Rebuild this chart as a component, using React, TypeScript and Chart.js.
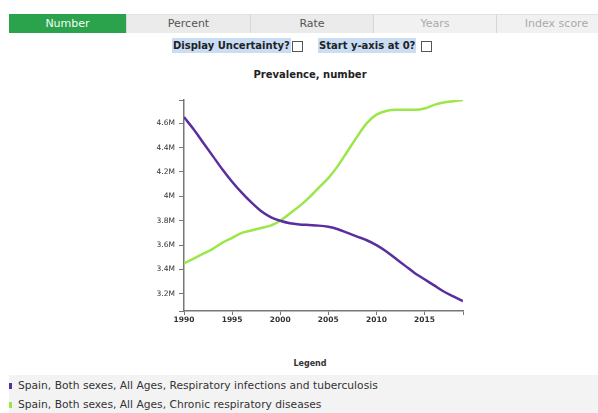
import React, { useEffect, useRef } from "react";
import { Chart, registerables } from "chart.js";

Chart.register(...registerables);

const years: number[] = [
  1990, 1991, 1992, 1993, 1994, 1995, 1996, 1997, 1998, 1999,
  2000, 2001, 2002, 2003, 2004, 2005, 2006, 2007, 2008, 2009,
  2010, 2011, 2012, 2013, 2014, 2015, 2016, 2017, 2018, 2019,
];

const respiratoryInfections: number[] = [
  4.65, 4.55, 4.44, 4.33, 4.22, 4.12, 4.03, 3.95, 3.88, 3.83,
  3.8, 3.78, 3.77, 3.765, 3.76, 3.75, 3.73, 3.7, 3.67, 3.64,
  3.6, 3.55, 3.49, 3.43, 3.37, 3.32, 3.27, 3.22, 3.18, 3.14,
].map((v) => v * 1e6);

const chronicRespiratory: number[] = [
  3.45, 3.49, 3.53, 3.57, 3.62, 3.66, 3.7, 3.72, 3.74, 3.76,
  3.8, 3.86, 3.92, 3.99, 4.07, 4.15, 4.25, 4.37, 4.49, 4.6,
  4.67, 4.7, 4.71, 4.71, 4.71, 4.72, 4.75, 4.77, 4.78, 4.79,
].map((v) => v * 1e6);

const xTickYears: number[] = [1990, 1995, 2000, 2005, 2010, 2015];
const yTickValues: number[] = [3.2e6, 3.4e6, 3.6e6, 3.8e6, 4e6, 4.2e6, 4.4e6, 4.6e6];

const tabs: string[] = ["Number", "Percent", "Rate", "Years", "Index score"];
const seriesNames: string[] = [
  "Spain, Both sexes, All Ages, Respiratory infections and tuberculosis",
  "Spain, Both sexes, All Ages, Chronic respiratory diseases",
];
const seriesColors: string[] = ["#5b2ea0", "#9be64b"];

const Y_MIN = 3.06e6;
const Y_MAX = 4.79e6;
const X_MIN = 1990;
const X_MAX = 2019;

const fmtM = (v: number) => {
  const m = v / 1e6;
  return (Math.round(m * 10) / 10).toString() + "M";
};

export default function App() {
  const ref = useRef<HTMLCanvasElement | null>(null);

  useEffect(() => {
    if (!ref.current) return;
    const axisColor = "#777";
    const chart = new Chart(ref.current, {
      type: "line",
      data: {
        datasets: [
          {
            label: seriesNames[0],
            data: years.map((y, i) => ({ x: y, y: respiratoryInfections[i] })),
            borderColor: seriesColors[0],
            borderWidth: 2.5,
            pointRadius: 0,
            cubicInterpolationMode: "monotone",
            fill: false,
          },
          {
            label: seriesNames[1],
            data: years.map((y, i) => ({ x: y, y: chronicRespiratory[i] })),
            borderColor: seriesColors[1],
            borderWidth: 2.5,
            pointRadius: 0,
            cubicInterpolationMode: "monotone",
            fill: false,
          },
        ],
      },
      options: {
        animation: false,
        responsive: false,
        maintainAspectRatio: false,
        layout: { padding: { left: 144, right: 135, top: 40, bottom: 9 } },
        plugins: {
          legend: { display: false },
          tooltip: { enabled: false },
          title: { display: false },
        },
        scales: {
          x: {
            type: "linear",
            min: X_MIN,
            max: X_MAX,
            afterBuildTicks: (scale: any) => {
              scale.ticks = [...xTickYears, X_MAX].map((v) => ({ value: v }));
            },
            afterFit: (scale: any) => {
              scale.height = 30;
            },
            ticks: {
              autoSkip: false,
              maxRotation: 0,
              padding: 1,
              color: "#333",
              font: { family: "DejaVu Sans", size: 7.5, weight: "bold" },
              callback: (v: any) => (xTickYears.includes(Number(v)) ? String(v) : ""),
            },
            grid: {
              drawOnChartArea: false,
              drawTicks: true,
              tickLength: 4,
              color: axisColor,
            },
            border: { display: true, color: axisColor, width: 1.5 },
          },
          y: {
            type: "linear",
            min: Y_MIN,
            max: Y_MAX,
            afterBuildTicks: (scale: any) => {
              scale.ticks = [Y_MIN, ...yTickValues, Y_MAX].map((v) => ({ value: v }));
            },
            afterFit: (scale: any) => {
              scale.width = 40;
            },
            ticks: {
              autoSkip: false,
              padding: 4,
              color: "#333",
              font: { family: "DejaVu Sans", size: 7.5 },
              callback: (v: any) => (yTickValues.includes(Number(v)) ? fmtM(Number(v)) : ""),
            },
            grid: {
              drawOnChartArea: false,
              drawTicks: true,
              tickLength: 5,
              color: axisColor,
            },
            border: { display: true, color: axisColor, width: 1.5 },
          },
        },
      },
    } as any);
    return () => chart.destroy();
  }, []);

  const font = "'DejaVu Sans', Verdana, sans-serif";
  const tabWidths = [117, 124, 123, 123, 120];

  return (
    <div
      style={{
        position: "fixed",
        left: 0,
        top: 0,
        width: 598,
        height: 413,
        background: "#fff",
        overflow: "hidden",
        fontFamily: font,
      }}
    >
      {/* tab buttons */}
      <div style={{ position: "absolute", left: 9, top: 14, width: 620, height: 19, display: "flex" }}>
        {tabs.map((t, i) => {
          const active = i === 0;
          const disabled = i >= 3;
          return (
            <div
              key={t}
              style={{
                width: tabWidths[i],
                flex: "none",
                height: 19,
                boxSizing: "border-box",
                background: active ? "#2ba24c" : disabled ? "#f1f1f1" : "#ebebeb",
                borderLeft: active ? "none" : "1px solid #d6d6d6",
                borderTop: active ? "none" : "1px solid #e2e2e2",
                color: active ? "#f4fff4" : disabled ? "#aaa" : "#555",
                fontSize: 11,
                lineHeight: "18px",
                paddingTop: active ? 3 : 2,
                textAlign: "center",
                overflow: "hidden",
              }}
            >
              <span style={{ display: "block", lineHeight: "14px" }}>{t}</span>
            </div>
          );
        })}
      </div>

      {/* options row */}
      <div
        style={{
          position: "absolute",
          left: 0,
          top: 38,
          width: 598,
          fontSize: 10,
          fontWeight: "bold",
          color: "#222",
          lineHeight: "15px",
          whiteSpace: "nowrap",
        }}
      >
        <span style={{ position: "absolute", left: 172, top: 0, background: "#c9ddf5", padding: "0 1px" }}>
          Display Uncertainty?
        </span>
        <span
          style={{
            position: "absolute",
            left: 292,
            top: 3,
            width: 9,
            height: 9,
            border: "1px solid #555",
            background: "#fff",
          }}
        />
        <span style={{ position: "absolute", left: 318, top: 0, background: "#c9ddf5", padding: "0 1px" }}>
          Start y-axis at 0?
        </span>
        <span
          style={{
            position: "absolute",
            left: 421,
            top: 3,
            width: 9,
            height: 9,
            border: "1px solid #555",
            background: "#fff",
          }}
        />
      </div>

      {/* chart title */}
      <div
        style={{
          position: "absolute",
          left: 210,
          top: 67,
          width: 200,
          textAlign: "center",
          fontSize: 10,
          fontWeight: "bold",
          color: "#222",
          lineHeight: "15px",
        }}
      >
        Prevalence, number
      </div>

      {/* chart */}
      <canvas
        ref={ref}
        width={598}
        height={290}
        style={{ position: "absolute", left: 0, top: 60, width: 598, height: 290 }}
      />

      {/* legend */}
      <div
        style={{
          position: "absolute",
          left: 260,
          top: 359,
          width: 100,
          textAlign: "center",
          fontSize: 8,
          fontWeight: "bold",
          color: "#333",
        }}
      >
        Legend
      </div>
      <div
        style={{
          position: "absolute",
          left: 9,
          top: 375,
          width: 589,
          height: 38,
          background: "#f3f3f3",
        }}
      />
      {seriesNames.map((n, i) => (
        <div
          key={n}
          style={{
            position: "absolute",
            left: 9,
            top: 377 + i * 19,
            height: 17,
            display: "flex",
            alignItems: "center",
            fontSize: 10.7,
            color: "#333",
            whiteSpace: "nowrap",
          }}
        >
          <span
            style={{
              display: "inline-block",
              width: 3,
              height: 6,
              background: seriesColors[i],
              marginRight: 6,
            }}
          />
          {n}
        </div>
      ))}
    </div>
  );
}
